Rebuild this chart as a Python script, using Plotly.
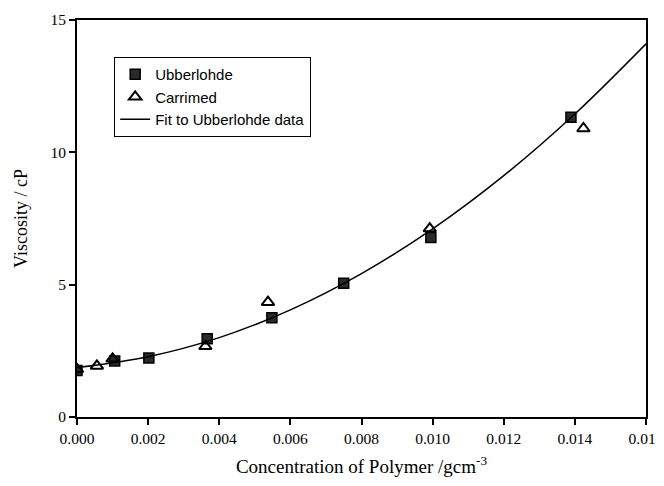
import plotly.graph_objects as go

# Ubberlohde data
ub_conc = [0.0000, 0.00106, 0.00202, 0.00366, 0.00548, 0.0075, 0.00995, 0.01389]
ub_visc = [1.76, 2.12, 2.23, 2.96, 3.75, 5.05, 6.78, 11.33]

# Carrimed data
ca_conc = [0.0000, 0.00056, 0.0010, 0.00361, 0.00537, 0.00992, 0.01424]
ca_visc = [1.80, 1.93, 2.20, 2.67, 4.34, 7.12, 10.90]

# Fit curve
fit_conc = [0.000, 0.002, 0.004, 0.006, 0.008, 0.010, 0.012, 0.014, 0.016]
fit_visc = [1.87, 2.28, 3.00, 4.05, 5.42, 7.11, 9.12, 11.45, 14.10]

x_ticks = [0.000, 0.002, 0.004, 0.006, 0.008, 0.010, 0.012, 0.014, 0.016]
x_tick_labels = ["0.000", "0.002", "0.004", "0.006", "0.008", "0.010", "0.012", "0.014", "0.016"]
y_ticks = [0, 5, 10, 15]

fig = go.Figure()
fig.add_trace(go.Scatter(
    x=ub_conc, y=ub_visc, mode="markers", name="Ubberlohde",
    marker=dict(symbol="square", size=10, color="#2a2a2a",
                line=dict(color="black", width=1.5)),
))
fig.add_trace(go.Scatter(
    x=ca_conc, y=ca_visc, mode="markers", name="Carrimed",
    marker=dict(symbol="triangle-up-open", size=11, color="black",
                line=dict(color="black", width=2)),
))
fig.add_trace(go.Scatter(
    x=fit_conc, y=fit_visc, mode="lines", name="Fit to Ubberlohde data",
    line=dict(color="black", width=1.5, shape="spline"),
))

axis_common = dict(
    showline=True, linecolor="black", linewidth=1.8, mirror=True,
    showgrid=False, zeroline=False, ticks="outside", ticklen=6,
    tickcolor="black", tickwidth=1.5, automargin=False,
    tickfont=dict(family="Liberation Serif", size=15.5, color="black"),
)

fig.update_layout(
    width=656, height=478,
    margin=dict(l=69, r=18, t=12, b=69),
    paper_bgcolor="white", plot_bgcolor="white",
    showlegend=True,
    legend=dict(
        x=0.065, y=0.907, xanchor="left", yanchor="top",
        bordercolor="black", borderwidth=1.2, bgcolor="white",
        font=dict(family="Liberation Sans", size=15, color="black"),
        itemwidth=30,
    ),
    xaxis=dict(
        range=[0, 0.016], tickvals=x_ticks, ticktext=x_tick_labels,
        title=dict(text="Concentration of Polymer /gcm<sup>-3</sup>",
                   font=dict(family="Liberation Serif", size=19, color="black"),
                   standoff=14),
        **axis_common,
    ),
    yaxis=dict(
        range=[0, 15], tickvals=y_ticks,
        title=dict(text="Viscosity / cP",
                   font=dict(family="Liberation Serif", size=18, color="black"),
                   standoff=18),
        **axis_common,
    ),
)

fig.write_html("out.html")
